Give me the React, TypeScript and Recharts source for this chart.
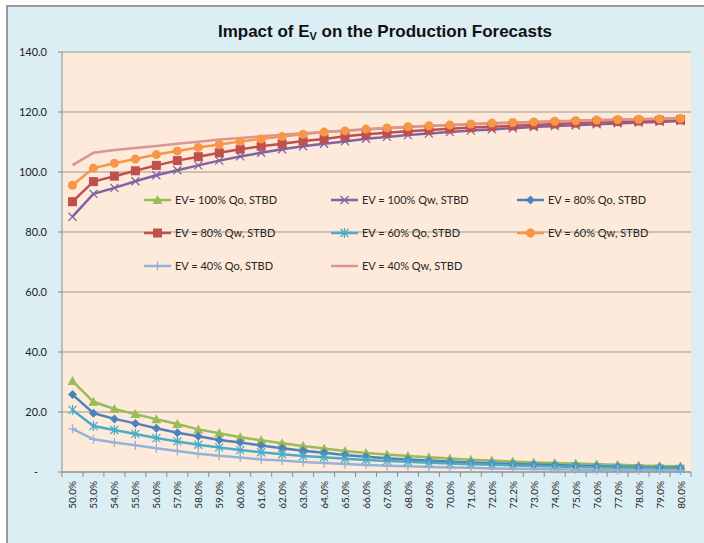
import React from 'react';
import { LineChart, Line, CartesianGrid, XAxis, YAxis, Legend } from 'recharts';

// x categories (EV %)
const labels = [
  '50.0%', '53.0%', '54.0%', '55.0%', '56.0%', '57.0%', '58.0%', '59.0%', '60.0%', '61.0%',
  '62.0%', '63.0%', '64.0%', '65.0%', '66.0%', '67.0%', '68.0%', '69.0%', '70.0%', '71.0%',
  '72.0%', '72.2%', '73.0%', '74.0%', '75.0%', '76.0%', '77.0%', '78.0%', '79.0%', '80.0%',
];

const yTicks = [0, 20, 40, 60, 80, 100, 120, 140];

const qo100 = [30.3, 23.4, 21.0, 19.3, 17.6, 16.0, 14.2, 12.9, 11.6, 10.6, 9.6, 8.7, 7.8, 7.0, 6.3, 5.8, 5.3, 4.9, 4.5, 4.1, 3.8, 3.5, 3.2, 3.0, 2.8, 2.6, 2.4, 2.2, 2.0, 1.9];
const qw100 = [85.1, 92.7, 94.7, 96.9, 98.9, 100.6, 102.2, 103.8, 105.2, 106.4, 107.6, 108.6, 109.4, 110.2, 111.1, 111.7, 112.3, 112.8, 113.3, 113.8, 114.2, 114.6, 115.0, 115.3, 115.6, 115.9, 116.2, 116.5, 116.7, 117.0];
const qo80 = [25.8, 19.6, 17.7, 16.2, 14.6, 13.1, 11.9, 10.7, 9.8, 8.8, 7.9, 7.1, 6.4, 5.7, 5.1, 4.6, 4.2, 3.8, 3.5, 3.2, 2.9, 2.7, 2.5, 2.3, 2.1, 1.9, 1.8, 1.6, 1.5, 1.4];
const qw80 = [90.1, 96.8, 98.6, 100.4, 102.2, 103.8, 105.1, 106.4, 107.6, 108.6, 109.4, 110.3, 111.0, 111.9, 112.6, 113.1, 113.6, 114.0, 114.4, 114.8, 115.1, 115.4, 115.7, 116.0, 116.3, 116.6, 116.8, 117.0, 117.2, 117.4];
const qo60 = [20.7, 15.3, 14.0, 12.7, 11.3, 10.2, 9.1, 8.2, 7.3, 6.6, 5.9, 5.3, 4.9, 4.4, 4.0, 3.7, 3.4, 3.1, 2.8, 2.6, 2.4, 2.2, 2.0, 1.8, 1.7, 1.5, 1.4, 1.3, 1.2, 1.1];
const qw60 = [95.6, 101.3, 102.9, 104.3, 105.8, 107.0, 108.2, 109.2, 110.2, 111.0, 111.8, 112.6, 113.3, 113.7, 114.3, 114.7, 115.1, 115.4, 115.7, 116.0, 116.3, 116.5, 116.7, 116.9, 117.1, 117.3, 117.5, 117.6, 117.7, 117.8];
const qo40 = [14.4, 10.9, 9.8, 8.9, 7.9, 7.0, 6.1, 5.4, 4.8, 4.2, 3.8, 3.3, 3.0, 2.7, 2.3, 2.1, 1.9, 1.7, 1.5, 1.4, 1.2, 1.1, 1.0, 0.9, 0.8, 0.7, 0.7, 0.6, 0.6, 0.5];
const qw40 = [102.3, 106.4, 107.3, 108.0, 108.7, 109.4, 110.1, 110.8, 111.3, 111.9, 112.4, 112.9, 113.3, 113.8, 114.2, 114.6, 115.0, 115.3, 115.6, 115.9, 116.2, 116.4, 116.6, 116.8, 117.0, 117.2, 117.4, 117.6, 117.8, 118.0];

const series = [
  { key: 'qo100', name: 'EV= 100% Qo, STBD', color: '#9BBB59', shape: 'triangle', values: qo100 },
  { key: 'qw100', name: 'EV = 100% Qw, STBD', color: '#8064A2', shape: 'x', values: qw100 },
  { key: 'qo80', name: 'EV = 80% Qo, STBD', color: '#4F81BD', shape: 'diamond', values: qo80 },
  { key: 'qw80', name: 'EV = 80% Qw, STBD', color: '#C0504D', shape: 'square', values: qw80 },
  { key: 'qo60', name: 'EV = 60% Qo, STBD', color: '#4BACC6', shape: 'star', values: qo60 },
  { key: 'qw60', name: 'EV = 60% Qw, STBD', color: '#F79646', shape: 'circle', values: qw60 },
  { key: 'qo40', name: 'EV = 40% Qo, STBD', color: '#95B3D7', shape: 'plus', values: qo40 },
  { key: 'qw40', name: 'EV = 40% Qw, STBD', color: '#D99694', shape: 'none', values: qw40 },
];

const data = labels.map((label, i) => {
  const row: any = { label };
  series.forEach(s => { row[s.key] = s.values[i]; });
  return row;
});

const W = 704;
const H = 543;
const margin = { top: 52, right: 13, bottom: 31, left: 0 };
const yAxisW = 62;
const band = (W - margin.right - margin.left - yAxisW) / labels.length;
const axisColor = '#8c8c8c';
const font = 'Lato, "Open Sans", sans-serif';

const Marker = ({ shape, color, cx, cy }: any) => {
  switch (shape) {
    case 'triangle':
      return <polygon points={`${cx},${cy - 5} ${cx + 5},${cy + 4} ${cx - 5},${cy + 4}`} fill={color} />;
    case 'x':
      return <path d={`M${cx - 4},${cy - 4}L${cx + 4},${cy + 4}M${cx - 4},${cy + 4}L${cx + 4},${cy - 4}`} stroke={color} strokeWidth={1.3} fill="none" />;
    case 'diamond':
      return <polygon points={`${cx},${cy - 4.5} ${cx + 4.5},${cy} ${cx},${cy + 4.5} ${cx - 4.5},${cy}`} fill={color} />;
    case 'square':
      return <rect x={cx - 4.5} y={cy - 4.5} width={9} height={9} fill={color} />;
    case 'star':
      return <path d={`M${cx - 4},${cy - 4}L${cx + 4},${cy + 4}M${cx - 4},${cy + 4}L${cx + 4},${cy - 4}M${cx},${cy - 5}L${cx},${cy + 5}`} stroke={color} strokeWidth={1.3} fill="none" />;
    case 'circle':
      return <circle cx={cx} cy={cy} r={4.5} fill={color} />;
    case 'plus':
      return <path d={`M${cx - 4.5},${cy}L${cx + 4.5},${cy}M${cx},${cy - 4.5}L${cx},${cy + 4.5}`} stroke={color} strokeWidth={1.3} fill="none" />;
    default:
      return null;
  }
};

const makeDot = (shape: string, color: string) => (props: any) => {
  const { cx, cy, index } = props;
  if (shape === 'none' || cx == null || cy == null) return <g key={`d-${index}`} />;
  return (
    <g key={`d-${index}`}>
      <Marker shape={shape} color={color} cx={cx} cy={cy} />
    </g>
  );
};

const XTick = ({ x, y, payload, index }: any) => (
  <g>
    <line x1={x - band / 2} x2={x - band / 2} y1={y} y2={y + 5} stroke={axisColor} />
    {index === labels.length - 1 && (
      <line x1={x + band / 2} x2={x + band / 2} y1={y} y2={y + 5} stroke={axisColor} />
    )}
    <text
      transform={`translate(${x + 4},${y + 9}) rotate(-90)`}
      textAnchor="end"
      fontSize={10}
      fontFamily={font}
      fill="#222"
    >
      {payload.value}
    </text>
  </g>
);

const YTick = ({ x, y, payload }: any) => (
  <text x={payload.value === 0 ? x - 9 : x} y={y} dy={4} textAnchor="end" fontSize={11} fontFamily={font} fill="#222">
    {payload.value === 0 ? '-' : payload.value.toFixed(1)}
  </text>
);

const LegendBox = () => (
  <div style={{ display: 'grid', gridTemplateColumns: '187px 186px 150px', rowGap: 0, fontFamily: font, fontSize: 11, color: '#262626' }}>
    {series.map(s => (
      <div key={s.key} style={{ display: 'flex', alignItems: 'center', height: 33 }}>
        <svg width={30} height={12} style={{ marginRight: 2 }}>
          <line x1={1} x2={28} y1={6} y2={6} stroke={s.color} strokeWidth={2.5} />
          <Marker shape={s.shape} color={s.color} cx={14.5} cy={6} />
        </svg>
        <span>{s.name}</span>
      </div>
    ))}
  </div>
);

export default function App() {
  return (
    <div style={{ position: 'absolute', left: 0, top: 0, width: W, height: H, background: '#fff', overflow: 'hidden' }}>
      <div style={{ position: 'absolute', left: 6, top: 5, width: W, height: H, background: '#DBEEF4', borderLeft: '2px solid #999', borderTop: '2px solid #999' }} />
      <div style={{ position: 'absolute', left: 0, top: 22, width: 770, textAlign: 'center', fontFamily: '"Liberation Sans", Arial, sans-serif', fontWeight: 'bold', fontSize: 17, color: '#111' }}>
        Impact of E<sub style={{ fontSize: 11, verticalAlign: -3 }}>V</sub> on the Production Forecasts
      </div>
      <div style={{ position: 'absolute', left: 0, top: 0 }}>
        <LineChart width={W} height={H} data={data} margin={margin}>
          <CartesianGrid vertical={false} stroke="#999" fill="#FDEADA" fillOpacity={1} />
          <XAxis dataKey="label" interval={0} height={40} padding={{ left: band / 2, right: band / 2 }} tickSize={0} tickMargin={0} tickLine={false} stroke={axisColor} tick={<XTick />} />
          <YAxis domain={[0, 140]} ticks={yTicks} width={yAxisW} tickSize={4} tickMargin={11} stroke={axisColor} tick={<YTick />} />
          <Legend layout="horizontal" verticalAlign="middle" align="center" wrapperStyle={{ left: 143, top: 183, width: 540 }} content={() => <LegendBox />} />
          {series.map(s => (
            <Line
              key={s.key}
              dataKey={s.key}
              name={s.name}
              type="linear"
              stroke={s.color}
              strokeWidth={2.5}
              dot={makeDot(s.shape, s.color)}
              activeDot={false}
              isAnimationActive={false}
            />
          ))}
        </LineChart>
      </div>
    </div>
  );
}
